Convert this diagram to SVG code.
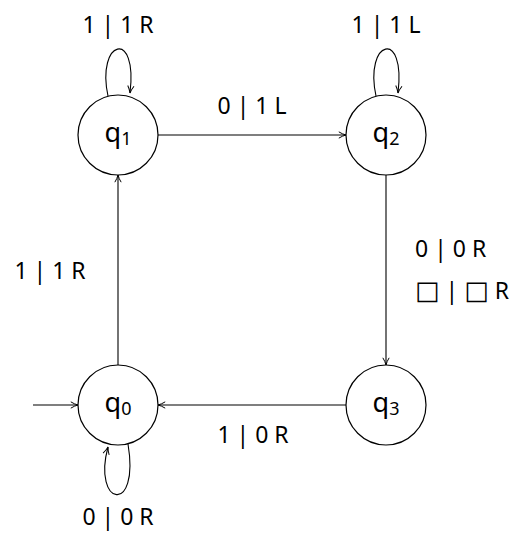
<svg xmlns="http://www.w3.org/2000/svg" width="518" height="533" viewBox="0 0 518 533">
<style>
.node circle{fill:#fff;stroke:#000;stroke-width:1.2}
.e{fill:none;stroke:#000;stroke-width:1.1;marker-end:url(#ah)}
text{font-family:"Noto Sans","DejaVu Sans",sans-serif;font-size:23px;fill:#000}
.lbl{text-anchor:middle}
.q{font-size:27px}
.sub{font-size:18px}
.sq{font-family:"DejaVu Sans",sans-serif;font-size:26px}
</style>
<defs>
<marker id="ah" viewBox="0 0 10 10" refX="9" refY="5" markerWidth="9" markerHeight="9" markerUnits="userSpaceOnUse" orient="auto">
<path d="M1,1.5 Q5,4 9,5 Q5,6 1,8.5" fill="none" stroke="#000" stroke-width="1.1"/>
</marker>
</defs>
<rect width="518" height="533" fill="#fff"/>
<g id="connectors">
<path class="e" d="M158,135 L346,135"/>
<path class="e" d="M386,175 L386,365"/>
<path class="e" d="M346,405 L158,405"/>
<path class="e" d="M118,365 L118,175"/>
<path class="e" d="M33,405 L78,405"/>
<path class="e" d="M108,96 C96,40 138,28 130,93"/>
<path class="e" d="M376,96 C364,40 406,28 398,93"/>
<path class="e" d="M128,444 C140,516 92,506 108,447"/>
<text class="lbl" x="118" y="33">1 | 1 R</text>
<text class="lbl" x="386" y="33">1 | 1 L</text>
<text class="lbl" x="252" y="114">0 | 1 L</text>
<text x="415" y="257">0 | 0 R</text>
<text x="415" y="299"><tspan class="sq">□</tspan> | <tspan class="sq">□</tspan> R</text>
<text class="lbl" x="253" y="443">1 | 0 R</text>
<text class="lbl" x="50" y="279">1 | 1 R</text>
<text class="lbl" x="118" y="525">0 | 0 R</text>
</g>
<g id="q1" class="node"><circle cx="118" cy="135" r="40"/><text class="lbl q" x="118" y="142">q<tspan class="sub" dy="3">1</tspan></text></g>
<g id="q2" class="node"><circle cx="386" cy="135" r="40"/><text class="lbl q" x="386" y="142">q<tspan class="sub" dy="3">2</tspan></text></g>
<g id="q3" class="node"><circle cx="386" cy="405" r="40"/><text class="lbl q" x="386" y="412">q<tspan class="sub" dy="3">3</tspan></text></g>
<g id="q0" class="node"><circle cx="118" cy="405" r="40"/><text class="lbl q" x="118" y="412">q<tspan class="sub" dy="3">0</tspan></text></g>
</svg>
